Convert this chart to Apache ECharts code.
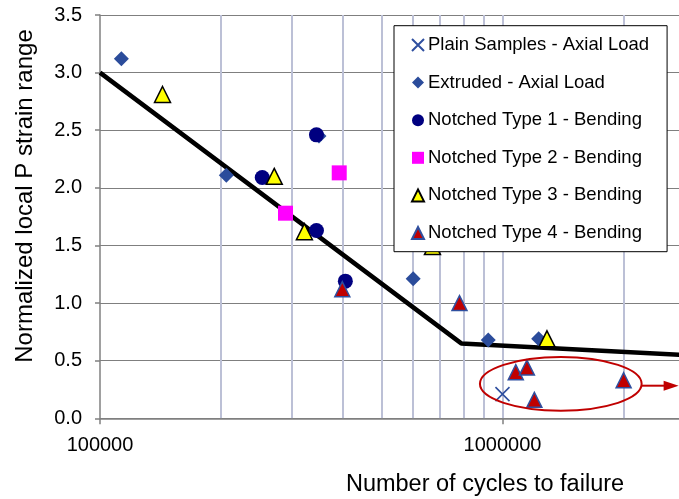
<!DOCTYPE html>
<html>
<head>
<meta charset="utf-8">
<script src="https://cdn.jsdelivr.net/npm/echarts@6/dist/echarts.min.js"></script>
<style>
html,body{margin:0;padding:0;background:#fff;}
#chart{width:679px;height:499px;}
</style>
</head>
<body>
<div id="chart"></div>
<script>
// ---- data ----
const seriesNames = [
  'Plain Samples - Axial Load',
  'Extruded - Axial Load',
  'Notched Type 1 - Bending',
  'Notched Type 2 - Bending',
  'Notched Type 3 - Bending',
  'Notched Type 4 - Bending'
];
const plainSamples = [[1000000, 0.21]];
const extruded = [[113000, 3.12], [206000, 2.11], [350000, 2.45], [600000, 1.21], [922000, 0.68], [1230000, 0.69]];
const notchedType1 = [[253000, 2.09], [345000, 2.46], [345000, 1.63], [407000, 1.19]];
const notchedType2 = [[289000, 1.78], [393000, 2.13]];
const notchedType3 = [[143000, 2.81], [271000, 2.10], [322000, 1.62], [670000, 1.49], [1290000, 0.69]];
const notchedType4 = [[400000, 1.12], [782000, 1.00], [1079000, 0.40], [1150000, 0.44], [1200000, 0.16], [2000000, 0.33]];
const fitLine = [[100000, 3.0], [790000, 0.65], [3000000, 0.545]];
const xMinorGrid = [200000, 300000, 400000, 500000, 600000, 700000, 800000, 900000, 1000000, 2000000];
const yTicks = [0, 0.5, 1.0, 1.5, 2.0, 2.5, 3.0, 3.5];
const xTickLabels = ['100000', '1000000'];
const xTitle = 'Number of cycles to failure';
const yTitle = 'Normalized local P strain range';
// annotation anchors (data space): ellipse bounds and arrow
const ellipseBounds = {xMin: 879000, xMax: 2217000, yMin: 0.066, yMax: 0.532};
const arrowEnd = [2740000, 0.283];

const FONT = 'Liberation Sans, Arial, sans-serif';
const chart = echarts.init(document.getElementById('chart'));

const option = {
  backgroundColor: '#ffffff',
  animation: false,
  grid: {left: 100, top: 15, bottom: 80.7, right: -15.5, outerBoundsMode: 'none', containLabel: false},
  legend: {
    left: 394, top: 25.7, orient: 'vertical',
    data: seriesNames,
    backgroundColor: '#ffffff', borderColor: '#000000', borderWidth: 1,
    padding: [8.3, 18, 7.7, 17],
    itemWidth: 12, itemHeight: 12, itemGap: 15.6,
    textStyle: {fontFamily: FONT, fontSize: 18.5, color: '#000', lineHeight: 22, padding: [0, 0, 0, -1]},
    selectedMode: false
  },
  xAxis: {
    type: 'log', logBase: 10, min: 100000, max: 3000000,
    axisLine: {show: true, lineStyle: {color: '#808080', width: 1.5}},
    axisTick: {show: true, inside: false, length: 6, lineStyle: {color: '#808080', width: 1.5}},
    splitLine: {show: false},
    axisLabel: {
      fontFamily: FONT, fontSize: 20, color: '#000', margin: 17,
      formatter: function (v) {
        const s = String(Math.round(v));
        return xTickLabels.indexOf(s) >= 0 ? s : '';
      }
    }
  },
  yAxis: {
    type: 'value', min: yTicks[0], max: yTicks[yTicks.length - 1], interval: 0.5,
    axisLine: {show: true, lineStyle: {color: '#808080', width: 1.5}},
    axisTick: {show: true, inside: false, length: 5, lineStyle: {color: '#808080', width: 1.5}},
    splitLine: {show: true, lineStyle: {color: '#7f7f7f', width: 1}},
    axisLabel: {fontFamily: FONT, fontSize: 20, color: '#000', margin: 18,
      formatter: function (v) { return v.toFixed(1); }}
  },
  series: [
    {
      type: 'line', name: 'fit', data: fitLine, symbol: 'none', silent: true,
      lineStyle: {color: '#000', width: 4.5}, z: 1,
      markLine: {
        silent: true, symbol: 'none', label: {show: false},
        lineStyle: {color: '#bcc0d6', width: 2, type: 'solid'},
        data: xMinorGrid.map(v => ({xAxis: v})),
        z: 0
      }
    },
    {type: 'scatter', name: seriesNames[0], data: plainSamples,
      symbol: 'path://M0,0L10,10M10,0L0,10', symbolSize: 14,
      itemStyle: {color: 'rgba(0,0,0,0)', borderColor: '#2f4f9f', borderWidth: 1.6, opacity: 1}, z: 3},
    {type: 'scatter', name: seriesNames[1], data: extruded,
      symbol: 'diamond', symbolSize: 15, itemStyle: {color: '#2b4c9b', opacity: 1}, z: 3},
    {type: 'scatter', name: seriesNames[2], data: notchedType1,
      symbol: 'circle', symbolSize: 15, itemStyle: {color: '#000080', opacity: 1}, z: 3},
    {type: 'scatter', name: seriesNames[3], data: notchedType2,
      symbol: 'rect', symbolSize: 15, itemStyle: {color: '#ff00ff', opacity: 1}, z: 3},
    {type: 'scatter', name: seriesNames[4], data: notchedType3,
      symbol: 'triangle', symbolSize: 16, itemStyle: {color: '#ffff00', borderColor: '#000', borderWidth: 1.5, opacity: 1}, z: 3},
    {type: 'scatter', name: seriesNames[5], data: notchedType4,
      symbol: 'triangle', symbolSize: 15, itemStyle: {color: '#c00000', borderColor: '#2f4f9f', borderWidth: 1.5, opacity: 1}, z: 3}
  ]
};
chart.setOption(option);

const p1 = chart.convertToPixel({gridIndex: 0}, [ellipseBounds.xMin, ellipseBounds.yMax]);
const p2 = chart.convertToPixel({gridIndex: 0}, [ellipseBounds.xMax, ellipseBounds.yMin]);
const pa = chart.convertToPixel({gridIndex: 0}, arrowEnd);
const cx = (p1[0] + p2[0]) / 2, cy = (p1[1] + p2[1]) / 2;
const rx = (p2[0] - p1[0]) / 2, ry = (p2[1] - p1[1]) / 2;

chart.setOption({
  graphic: {elements: [
    {type: 'text', style: {text: xTitle, x: 485, y: 485, fill: '#000', font: '23.5px ' + FONT, textAlign: 'center', textVerticalAlign: 'middle'}},
    {type: 'text', x: 25, y: 196, rotation: Math.PI / 2, style: {text: yTitle, x: 0, y: 0, fill: '#000', font: '24px ' + FONT, textAlign: 'center', textVerticalAlign: 'middle'}},
    {type: 'ellipse', shape: {cx: cx, cy: cy, rx: rx, ry: ry}, style: {fill: 'none', stroke: '#c00000', lineWidth: 2}, z: 10},
    {type: 'line', shape: {x1: p2[0], y1: pa[1], x2: pa[0] - 12, y2: pa[1]}, style: {stroke: '#c00000', lineWidth: 2}, z: 10},
    {type: 'polygon', shape: {points: [[pa[0] - 15, pa[1] - 5], [pa[0], pa[1]], [pa[0] - 15, pa[1] + 5]]}, style: {fill: '#c00000'}, z: 10}
  ]}
});
</script>
</body>
</html>
